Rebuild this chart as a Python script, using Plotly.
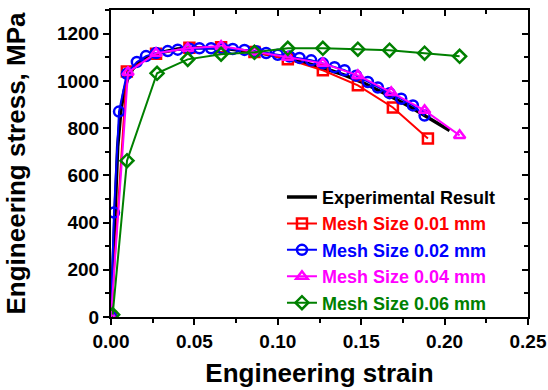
import plotly.graph_objects as go

# Experimental result
exp_x = [0, 0.002, 0.004, 0.006, 0.008, 0.010, 0.013, 0.017, 0.022, 0.03, 0.04, 0.05, 0.06, 0.07, 0.08,
         0.09, 0.10, 0.11, 0.12, 0.13, 0.14, 0.15, 0.16, 0.17, 0.18, 0.19, 0.2, 0.203]
exp_y = [0, 380, 720, 880, 960, 1010, 1050, 1080, 1100, 1120, 1135, 1140, 1140, 1136, 1128,
         1118, 1104, 1088, 1070, 1048, 1024, 996, 962, 925, 887, 846, 803, 790]

# Mesh size 0.01 mm
m01_x = [0, 0.0095, 0.027, 0.047, 0.066, 0.086, 0.106, 0.127, 0.148, 0.169, 0.190]
m01_y = [0, 1040, 1115, 1140, 1142, 1122, 1091, 1045, 981, 887, 756]

# Mesh size 0.02 mm
m02_x = [0, 0.0018, 0.0048, 0.0095, 0.0155, 0.021, 0.027, 0.034, 0.040, 0.047, 0.053, 0.060, 0.067,
         0.073, 0.080, 0.087, 0.093, 0.100, 0.107, 0.113, 0.120, 0.127, 0.134, 0.140, 0.147, 0.154,
         0.160, 0.167, 0.174, 0.181, 0.188]
m02_y = [0, 442, 870, 1030, 1080, 1105, 1118, 1126, 1132, 1136, 1138, 1138, 1137,
         1135, 1131, 1125, 1118, 1110, 1103, 1097, 1087, 1074, 1058, 1045, 1022, 995,
         972, 948, 924, 896, 853]

# Mesh size 0.04 mm
m04_x = [0, 0.0102, 0.027, 0.046, 0.066, 0.086, 0.106, 0.127, 0.148, 0.168, 0.188, 0.209]
m04_y = [0, 1036, 1117, 1138, 1147, 1122, 1100, 1074, 1023, 951, 875, 769]

# Mesh size 0.06 mm
m06_x = [0.001, 0.0096, 0.0276, 0.046, 0.066, 0.086, 0.106, 0.127, 0.148, 0.167, 0.188, 0.209]
m06_y = [10, 662, 1032, 1091, 1113, 1121, 1138, 1138, 1134, 1130, 1117, 1104]

x_ticks = [0, 0.05, 0.10, 0.15, 0.20, 0.25]
x_labels = ["0.00", "0.05", "0.10", "0.15", "0.20", "0.25"]
y_ticks = [0, 200, 400, 600, 800, 1000, 1200]

FONT = "Liberation Sans, Arial, sans-serif"

fig = go.Figure()
fig.add_trace(go.Scatter(x=exp_x, y=exp_y, mode="lines", line=dict(color="black", width=3.5),
                         name="<b>Experimental Result</b>"))
series = [
    (m01_x, m01_y, "#FF0000", "square-open", "Mesh Size 0.01 mm"),
    (m02_x, m02_y, "#0000FF", "circle-open", "Mesh Size 0.02 mm"),
    (m04_x, m04_y, "#FF00FF", "triangle-up-open", "Mesh Size 0.04 mm"),
    (m06_x, m06_y, "#008000", "diamond-open", "Mesh Size 0.06 mm"),
]
for xs, ys, col, sym, nm in series:
    fig.add_trace(go.Scatter(
        x=xs, y=ys, mode="lines+markers",
        line=dict(color=col, width=2),
        marker=dict(symbol=sym, size=10, color=col, line=dict(color=col, width=2.5)),
        name=f"<span style='color:{col}'><b>{nm}</b></span>",
    ))

# invisible trace for mirrored inside-tick axes
fig.add_trace(go.Scatter(x=[0.1], y=[500], xaxis="x2", yaxis="y2", mode="markers",
                         marker=dict(opacity=0), showlegend=False, hoverinfo="skip"))

fig.update_layout(
    width=548, height=390,
    margin=dict(l=111, r=20, t=10, b=73),
    plot_bgcolor="white", paper_bgcolor="white",
    font=dict(family=FONT, color="black"),
    showlegend=True,
    legend=dict(x=0.41, y=0.45, xanchor="left", yanchor="top", bgcolor="rgba(0,0,0,0)",
                font=dict(size=18, family=FONT, color="black"), tracegroupgap=0,
                itemwidth=30),
    xaxis=dict(range=[0, 0.25], tickvals=x_ticks, ticktext=x_labels, automargin=False,
               ticks="outside", ticklen=6, tickwidth=2, tickcolor="black",
               minor=dict(dtick=0.025, ticks="outside", ticklen=4, tickwidth=2, tickcolor="black"),
               showline=True, linewidth=2, linecolor="black", mirror=True,
               showgrid=False, zeroline=False,
               tickfont=dict(size=19, family=FONT, color="black", weight="bold"),
               title=dict(text="<b>Engineering strain</b>", font=dict(size=26, family=FONT),
                          standoff=13)),
    yaxis=dict(range=[0, 1300], tickvals=y_ticks, automargin=False,
               ticks="outside", ticklen=6, tickwidth=2, tickcolor="black",
               minor=dict(dtick=100, ticks="outside", ticklen=4, tickwidth=2, tickcolor="black"),
               showline=True, linewidth=2, linecolor="black", mirror=True,
               showgrid=False, zeroline=False,
               tickfont=dict(size=19, family=FONT, color="black", weight="bold"),
               title=dict(text="<b>Engineering stress, MPa</b>", font=dict(size=26, family=FONT),
                          standoff=24)),
    xaxis2=dict(overlaying="x", side="top", range=[0, 0.25], tickvals=x_ticks, automargin=False,
                showticklabels=False, ticks="inside", ticklen=6, tickwidth=2, tickcolor="black",
                minor=dict(dtick=0.025, ticks="inside", ticklen=4, tickwidth=2, tickcolor="black"),
                showgrid=False, zeroline=False, showline=False),
    yaxis2=dict(overlaying="y", side="right", range=[0, 1300], tickvals=y_ticks, automargin=False,
                showticklabels=False, ticks="inside", ticklen=6, tickwidth=2, tickcolor="black",
                minor=dict(dtick=100, ticks="inside", ticklen=4, tickwidth=2, tickcolor="black"),
                showgrid=False, zeroline=False, showline=False),
)

fig.write_html("out.html")
